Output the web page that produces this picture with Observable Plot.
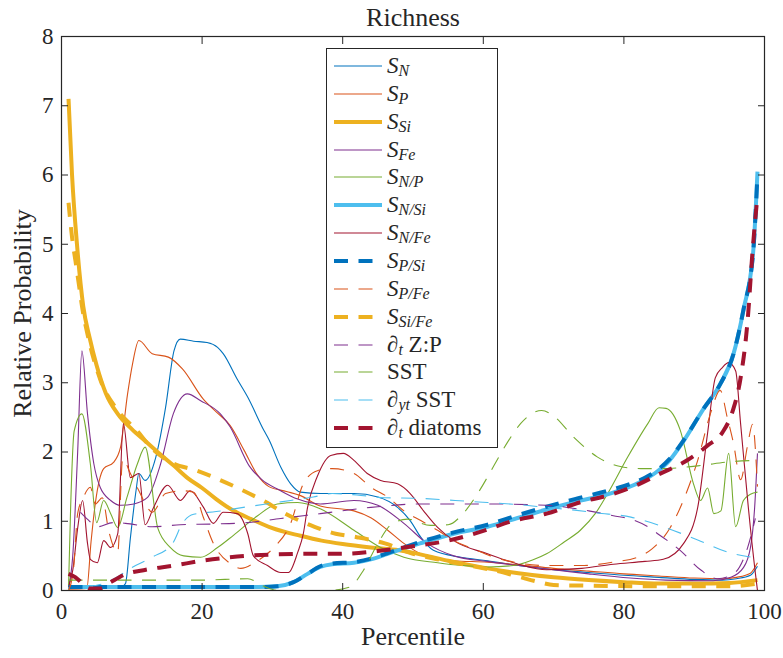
<!DOCTYPE html>
<html>
<head>
<meta charset="utf-8">
<script src="https://cdn.jsdelivr.net/npm/d3@7"></script>
<script src="https://cdn.jsdelivr.net/npm/@observablehq/plot@0.6"></script>
<style>
  body { margin: 0; background: #fff; }
  #wrap { position: relative; width: 783px; height: 658px; }
  #legend { position: absolute; left: 326px; top: 48px; width: 170px; height: 398px;
    border: 1px solid #262626; background: #fff; font-family: "Liberation Serif", serif;
    font-size: 23px; color: #262626; }
  .row { position: absolute; left: 0; width: 100%; height: 28px; }
  .row svg { position: absolute; left: 6px; top: 0; }
  .row .lab { position: absolute; left: 60px; top: 0; line-height: 28px; white-space: nowrap; }
  .row sub { font-size: 16px; vertical-align: -3px; line-height: 0; font-style: italic; }
</style>
</head>
<body>
<div id="wrap"></div>
<script>
// ---- data (percentile, relative probability) ----
const xTicks = [0, 20, 40, 60, 80, 100];
const yTicks = [0, 1, 2, 3, 4, 5, 6, 7, 8];

const S_N = [[1,0.05],[5,0.05],[8.5,0.05],[9.1,0.1],[9.8,0.76],[10.6,1.44],[11,1.69],[11.9,1.59],[13.4,1.92],[14.8,2.64],[16,3.46],[16.9,3.63],[18.8,3.6],[20.7,3.58],[22.2,3.51],[23,3.42],[25,3.05],[26.5,2.79],[28.8,2.31],[29.5,2.18],[31.2,1.78],[32.6,1.54],[34,1.42],[36.8,1.4],[41.6,1.4],[45,1.35],[47.8,1.2],[49.6,1.01],[51.1,0.77],[52.9,0.58],[56.8,0.48],[60.6,0.43],[65,0.36],[70,0.3],[75,0.26],[80,0.22],[85,0.19],[90,0.16],[94,0.15],[96,0.17],[98,0.22],[99,0.35]];
const S_P = [[1,0.02],[3.6,0.03],[4.2,0.7],[4.8,1.25],[6,1.76],[7.4,1.85],[8.4,2.07],[9.4,2.84],[10.1,3.27],[11,3.61],[12.9,3.42],[15.2,3.37],[17.2,3.2],[20.2,2.76],[22,2.58],[24,2.38],[26,2.02],[27.8,1.68],[29.5,1.5],[32,1.43],[34,1.37],[36.8,1.22],[41.6,1.15],[44,1.05],[46.4,0.87],[48.7,0.68],[51.1,0.53],[55.8,0.43],[60.6,0.41],[65,0.37],[70,0.32],[75,0.28],[80,0.24],[85,0.21],[90,0.18],[94,0.17],[96,0.19],[98,0.25],[99,0.4]];
const S_Si = [[1,7.1],[1.5,6.0],[2.2,5.0],[3.1,4.1],[4,3.65],[5,3.25],[6.3,2.85],[8,2.55],[10,2.33],[12,2.15],[14,1.97],[16,1.8],[18,1.62],[20,1.48],[22,1.32],[24,1.18],[27,1.03],[30,0.9],[34,0.79],[37,0.72],[40,0.67],[44,0.62],[48,0.58],[52,0.5],[55,0.43],[60,0.33],[65,0.25],[70,0.19],[75,0.15],[80,0.12],[85,0.1],[90,0.1],[95,0.11],[99,0.15]];
const S_Fe = [[1,0.05],[1.6,0.5],[2.3,2.0],[2.9,3.46],[3.7,2.55],[4.6,1.83],[5.5,1.49],[7,1.3],[8.4,1.23],[10.3,1.25],[12.2,1.34],[14.1,1.83],[15.9,2.55],[17.9,2.84],[19.8,2.74],[22.6,2.55],[24,2.36],[26.7,1.8],[28.5,1.6],[31,1.45],[33.6,1.32],[36.8,1.25],[41.6,1.3],[45,1.23],[48.7,0.97],[52,0.68],[55.8,0.5],[60.6,0.42],[65,0.36],[70,0.3],[75,0.24],[80.9,0.18],[86,0.15],[92.7,0.14],[95.2,0.19],[97,0.33],[98,0.62],[98.6,1.2],[99,1.98]];
const S_NP = [[1,0.05],[1.3,1.2],[1.8,2.3],[2.9,2.55],[4.1,1.83],[5,0.98],[6,1.3],[7,1.11],[8,0.91],[9.3,1.34],[10.8,1.83],[11.9,2.07],[13.7,0.9],[15.5,0.62],[17.4,0.5],[19.8,0.48],[22.2,0.62],[24.5,0.8],[27.9,1.08],[30.7,1.25],[33.6,1.27],[36.8,1.18],[41.6,0.87],[45.4,0.62],[48.7,0.48],[53.5,0.4],[57,0.36],[60.6,0.34],[64.3,0.36],[67,0.44],[69,0.53],[71.5,0.7],[73.8,0.87],[76,1.12],[77.7,1.4],[80.5,1.92],[83.4,2.41],[85,2.64],[86,2.63],[88,2.32],[89.9,1.54],[90.9,1.3],[91.9,1.48],[92.8,1.11],[93.8,1.15],[94.9,1.98],[95.9,0.92],[97,1.3],[98,1.39],[99,1.42]];
const S_NSi = [[1,0.05],[10,0.05],[20,0.05],[28,0.05],[30.7,0.06],[33,0.12],[35,0.24],[36.8,0.34],[38.5,0.38],[41.6,0.4],[44,0.45],[46.4,0.53],[51,0.68],[55.8,0.82],[60.6,0.92],[65,1.05],[69,1.17],[73,1.28],[78,1.4],[82.4,1.57],[84.5,1.7],[86.5,1.88],[88.5,2.16],[91.3,2.62],[93.7,2.98],[95.6,3.42],[97,4.05],[98.4,4.9],[99,6.05]];
const S_NFe = [[1,0.05],[1.6,0.29],[2.3,0.9],[3,1.3],[3.7,0.68],[4.1,0.45],[5.1,0.4],[6,0.72],[7,0.62],[8,0.82],[8.8,2.41],[9.8,1.63],[11,1.69],[11.9,0.95],[13.1,1.2],[15.1,1.52],[16.9,1.3],[18.3,1.44],[20.2,1.2],[21.6,0.97],[23,1.13],[25,1.11],[26.5,0.82],[27.3,0.5],[29.3,0.36],[31.2,0.26],[32.3,0.26],[33.6,0.55],[34.4,0.82],[35,1.2],[36.4,1.65],[38.3,1.95],[40.1,1.98],[41.6,1.88],[43.5,1.69],[45.4,1.59],[47.8,1.54],[49.6,1.4],[51.5,1.15],[53.5,0.91],[55.8,0.72],[60.6,0.53],[65,0.38],[69,0.3],[74,0.32],[78.5,0.38],[83,0.42],[85.6,0.45],[88.5,0.68],[90.5,1.2],[91.9,2.27],[93,3.07],[94,3.22],[94.9,3.29],[95.9,3.17],[96.6,2.41],[97.7,1.2],[98.7,0.25],[99,0.0]];
const S_PSi = [[1,0.05],[10,0.05],[20,0.05],[28,0.05],[30.7,0.06],[33,0.12],[35,0.24],[36.8,0.35],[38.5,0.39],[41.6,0.41],[44,0.46],[46.4,0.54],[51,0.7],[55.8,0.84],[60.6,0.95],[65,1.09],[69,1.21],[73,1.32],[78,1.45],[82.4,1.6],[84.5,1.72],[86.5,1.9],[88.5,2.17],[91.3,2.62],[93.7,2.98],[95.6,3.42],[97,4.05],[98.4,4.9],[99,6.0]];
const S_PFe = [[1,0.0],[1.7,0.3],[2.3,1.11],[3.1,1.34],[4.1,1.49],[4.8,1.25],[5.8,1.34],[6.7,0.87],[8,0.55],[8.7,1.9],[9.8,1.69],[11.2,1.4],[12.2,1.2],[12.9,1.13],[14.8,1.4],[17.2,1.44],[18.8,1.42],[20.2,1.05],[21.6,0.68],[24,0.39],[25.5,0.32],[27.9,0.43],[30.2,0.62],[32.6,0.97],[34.4,1.54],[36.4,1.73],[38.5,1.76],[41.6,1.69],[44,1.49],[46.4,1.35],[48.7,1.15],[51.1,1.01],[53.5,0.87],[55.8,0.72],[58.6,0.6],[61,0.5],[64.3,0.41],[69,0.36],[73.8,0.36],[78.5,0.41],[82.4,0.5],[84,0.6],[86.6,0.91],[89,1.44],[90.5,1.88],[92.3,2.55],[93.7,2.89],[94.7,2.5],[95.6,2.12],[96.6,1.6],[97.6,2.1],[98.3,2.4],[99,1.5]];
const S_SiFe = [[1,5.6],[1.5,5.1],[2,4.75],[2.5,4.4],[3,4.05],[3.7,3.7],[5.5,3.05],[8,2.6],[10.8,2.3],[12.7,2.07],[16,1.83],[19,1.74],[22,1.62],[25.5,1.46],[29,1.28],[32,1.1],[36,0.92],[39,0.82],[42,0.77],[46,0.68],[50,0.53],[54,0.44],[58,0.36],[62,0.28],[65,0.2],[68,0.12],[70,0.08],[75,0.07],[85,0.06],[95,0.06],[99,0.1]];
const dZP = [[2.7,1.13],[3.8,1.02],[5.1,0.92],[7.3,0.98],[9.1,0.97],[12.9,0.92],[16.9,0.95],[21.6,0.96],[26.5,0.98],[31.2,1.04],[36.8,1.11],[44,1.2],[51,1.25],[60.6,1.25],[69,1.23],[75,1.15],[78.5,1.08],[81,1.03],[83.4,0.92],[84.8,0.82],[88,0.58],[90.9,0.3],[93.3,0.17],[95.6,0.24],[97.6,0.62],[98.7,1.04]];
const SST = [[1,0.15],[10,0.15],[20,0.15],[26.5,0.17],[28.8,0.06],[31,0.0],[38,0.0],[41,0.05],[43,0.3],[45,0.68],[47,0.96],[49.2,1.03],[52.5,0.94],[55,0.95],[57.2,1.12],[59.5,1.45],[61.5,1.8],[63.5,2.15],[65.3,2.41],[67,2.56],[68.3,2.6],[70,2.52],[72.8,2.22],[76.2,1.93],[79.5,1.79],[82.4,1.76],[85.6,1.76],[90.5,1.8],[95.2,1.86],[99,1.88]];
const dySST = [[3.7,0.06],[6,0.1],[8,0.2],[10,0.33],[12.9,0.48],[15.8,0.68],[17.2,0.97],[18.8,1.1],[22,1.14],[26.5,1.21],[31.2,1.28],[35.8,1.35],[38.5,1.4],[42,1.38],[46,1.34],[51,1.33],[56,1.3],[60.6,1.27],[65,1.24],[69,1.2],[73,1.16],[76.2,1.12],[81,1.06],[85.6,0.92],[90.5,0.73],[95.2,0.54],[99,0.47]];
const dDiatoms = [[1,0.24],[2,0.19],[3,0.1],[4,0.03],[5.5,0.03],[7,0.12],[9,0.23],[12,0.3],[16,0.36],[20,0.43],[25,0.49],[30,0.52],[35,0.53],[40,0.53],[45,0.57],[50,0.64],[55,0.72],[60,0.86],[64,1.0],[69,1.11],[74,1.28],[78,1.38],[82,1.53],[85,1.68],[89,1.88],[92,2.1],[94,2.28],[95.5,2.6],[96.6,3.07],[97.6,3.9],[98.3,4.9],[99,5.7]];

// ---- series styling ----
const DASH = "14,10.5";
const series = [
  {data: S_N,      color: "#0072BD", w: 1.1, dash: null, label: '<i>S</i><sub>N</sub>'},
  {data: S_P,      color: "#D95319", w: 1.1, dash: null, label: '<i>S</i><sub>P</sub>'},
  {data: S_Si,     color: "#EDB120", w: 4,   dash: null, label: '<i>S</i><sub>Si</sub>'},
  {data: S_Fe,     color: "#7E2F8E", w: 1.1, dash: null, label: '<i>S</i><sub>Fe</sub>'},
  {data: S_NP,     color: "#77AC30", w: 1.1, dash: null, label: '<i>S</i><sub>N/P</sub>'},
  {data: S_NSi,    color: "#4DBEEE", w: 4,   dash: null, label: '<i>S</i><sub>N/Si</sub>'},
  {data: S_NFe,    color: "#A2142F", w: 1.1, dash: null, label: '<i>S</i><sub>N/Fe</sub>'},
  {data: S_PSi,    color: "#0072BD", w: 4,   dash: DASH, label: '<i>S</i><sub>P/Si</sub>'},
  {data: S_PFe,    color: "#D95319", w: 1.1, dash: DASH, label: '<i>S</i><sub>P/Fe</sub>'},
  {data: S_SiFe,   color: "#EDB120", w: 4,   dash: DASH, label: '<i>S</i><sub>Si/Fe</sub>'},
  {data: dZP,      color: "#7E2F8E", w: 1.1, dash: DASH, label: '∂<sub>t</sub> Z:P'},
  {data: SST,      color: "#77AC30", w: 1.1, dash: DASH, label: 'SST'},
  {data: dySST,    color: "#4DBEEE", w: 1.1, dash: DASH, label: '∂<sub>yt</sub> SST'},
  {data: dDiatoms, color: "#A2142F", w: 4,   dash: DASH, label: '∂<sub>t</sub> diatoms'}
];

const font = '"Liberation Serif", serif';
const ink = "#262626";

const chart = Plot.plot({
  width: 783, height: 658,
  marginLeft: 61, marginRight: 19, marginTop: 36, marginBottom: 68,
  style: {fontFamily: font, fontSize: "23px", color: ink, background: "#fff", overflow: "visible"},
  x: {domain: [0, 100]},
  y: {domain: [0, 8]},
  marks: [
    ...series.map(s => Plot.line(s.data, {
      x: d => d[0], y: d => d[1], stroke: s.color, strokeWidth: s.w,
      strokeDasharray: s.dash, curve: "monotone-x", strokeLinecap: "butt", strokeLinejoin: "round"
    })),
    Plot.frame({stroke: ink, strokeWidth: 1.2}),
    Plot.axisX(xTicks, {anchor: "bottom", tickSize: -7, tickPadding: 19, tickFormat: d3.format("d"), label: null, fontSize: 23}),
    Plot.axisX(xTicks, {anchor: "top", tickSize: -7, tickFormat: () => "", label: null}),
    Plot.axisY(yTicks, {anchor: "left", tickSize: -7, tickPadding: 15, tickFormat: d3.format("d"), label: null, fontSize: 23}),
    Plot.axisY(yTicks, {anchor: "right", tickSize: -7, tickFormat: () => "", label: null}),
    Plot.text(["Richness"], {text: d => d, frameAnchor: "top", lineAnchor: "middle", dy: -19, fontSize: 26, fill: ink}),
    Plot.text(["Percentile"], {text: d => d, frameAnchor: "bottom", lineAnchor: "middle", dy: 46, fontSize: 26, fill: ink}),
    Plot.text(["Relative Probability"], {text: d => d, frameAnchor: "left", textAnchor: "middle", lineAnchor: "middle", dx: -39, rotate: -90, fontSize: 26, fill: ink})
  ]
});

const wrap = document.getElementById("wrap");
wrap.appendChild(chart);

// ---- legend (HTML overlay) ----
const legend = document.createElement("div");
legend.id = "legend";
series.forEach((s, i) => {
  const row = document.createElement("div");
  row.className = "row";
  row.style.top = (3 + 27.85 * i) + "px";
  const svg = d3.create("svg").attr("width", 50).attr("height", 28);
  svg.append("line").attr("x1", 1).attr("x2", 49).attr("y1", 14).attr("y2", 14)
    .attr("stroke", s.color).attr("stroke-width", s.w)
    .attr("stroke-dasharray", s.dash).attr("stroke-linecap", "butt");
  row.appendChild(svg.node());
  const lab = document.createElement("span");
  lab.className = "lab";
  lab.innerHTML = s.label;
  row.appendChild(lab);
  legend.appendChild(row);
});
wrap.appendChild(legend);
</script>
</body>
</html>
